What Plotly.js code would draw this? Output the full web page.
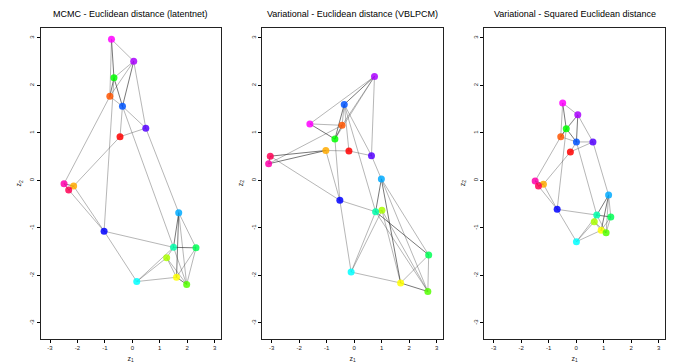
<!DOCTYPE html>
<html><head><meta charset="utf-8">
<script src="https://cdn.plot.ly/plotly-3.0.1.min.js"></script>
<style>body{margin:0;background:#fff}#chart{width:676px;height:363px}</style>
</head><body><div id="chart"></div>
<script>
// Node colours (rainbow(18)), node i = index i-1
const nodeColors = ['#FF0000','#FF5500','#FFAA00','#FFFF00','#AAFF00','#55FF00','#00FF00','#00FF55','#00FFAA',
                    '#00FFFF','#00AAFF','#0055FF','#0000FF','#5500FF','#AA00FF','#FF00FF','#FF00AA','#FF0055'];

const panelTitles = ['MCMC - Euclidean distance (latentnet)','Variational - Euclidean distance (VBLPCM)','Variational - Squared Euclidean distance'];

// latent positions per panel
const mcmcX = [-0.45,-0.82,-2.14,1.61,1.25,1.98,-0.67,2.32,1.50,0.16,1.69,-0.36,-1.03,0.49,0.05,-0.76,-2.49,-2.32];
const mcmcY = [0.92,1.77,-0.12,-2.04,-1.63,-2.19,2.16,-1.42,-1.41,-2.13,-0.68,1.56,-1.07,1.10,2.51,2.97,-0.07,-0.20];
const vbEucX = [-0.19,-0.44,-1.03,1.69,1.01,2.68,-0.70,2.71,0.78,-0.11,0.99,-0.36,-0.52,0.63,0.74,-1.61,-3.11,-3.05];
const vbEucY = [0.62,1.16,0.63,-2.16,-0.63,-2.34,0.87,-1.57,-0.66,-1.93,0.03,1.60,-0.42,0.52,2.19,1.19,0.35,0.51];
const vbSqX = [-0.21,-0.56,-1.19,0.91,0.66,1.09,-0.36,1.26,0.75,0.01,1.18,0.01,-0.69,0.61,0.06,-0.49,-1.49,-1.37];
const vbSqY = [0.60,0.92,-0.08,-1.05,-0.87,-1.10,1.09,-0.77,-0.73,-1.29,-0.31,0.81,-0.61,0.81,1.38,1.63,-0.01,-0.12];

// ties: from, to, number of directed ties (2 = reciprocal)
const edgeFrom = [16,16,16,15,15,15,15,7,7,2,12,12,1, 2,1,7,12,14, 17,18,17,3,18, 13,13,10,10,10, 11,11,11,11, 9,8,8,5,5,9,4,5];
const edgeTo   = [15,7,2,7,2,12,14,12,2,12,14,1,14, 17,3,13,9,11, 3,3,18,13,13, 9,10,5,9,4, 9,4,8,6, 8,4,6,4,6,6,6,9];
const edgeMult = [1,2,1,1,1,2,1,2,2,1,1,1,1, 1,1,1,1,1, 2,2,2,1,1, 1,1,1,1,1, 2,2,1,1, 2,1,1,1,1,1,2,1];

const axisTicks = [-3,-2,-1,0,1,2,3];
const axisRange = [-3.34,3.22];

const panels = [[mcmcX,mcmcY],[vbEucX,vbEucY],[vbSqX,vbSqY]];
const xDomPx = [[40.7,220.7],[262.3,442.7],[484.3,664.7]];
const W = 676, H = 363;
const yDom = [1-339/H, 1-27.5/H];

const traces = [];
const layout = {width:W,height:H,margin:{l:0,r:0,t:0,b:0},paper_bgcolor:'#fff',plot_bgcolor:'#fff',
  showlegend:false,font:{family:'Liberation Sans, Arial, sans-serif',color:'#000'},annotations:[]};

panels.forEach((p,k)=>{
  const [px,py] = p;
  const xa = k===0?'x':'x'+(k+1), ya = k===0?'y':'y'+(k+1);
  [1,2].forEach(m=>{
    const lx=[],ly=[];
    for(let e=0;e<edgeFrom.length;e++){
      if(edgeMult[e]!==m) continue;
      const a=edgeFrom[e]-1,b=edgeTo[e]-1;
      lx.push(px[a],px[b],null); ly.push(py[a],py[b],null);
    }
    traces.push({type:'scatter',mode:'lines',x:lx,y:ly,xaxis:xa,yaxis:ya,hoverinfo:'skip',
      line:{color:m===1?'rgba(60,60,60,0.42)':'rgba(40,40,40,0.7)',width:0.9}});
  });
  traces.push({type:'scatter',mode:'markers',x:px,y:py,xaxis:xa,yaxis:ya,
    marker:{size:7,color:nodeColors,opacity:0.85,line:{width:0}}});
  const common = {range:axisRange,tickvals:axisTicks,ticktext:axisTicks.map(String),ticks:'outside',ticklen:3,
    tickcolor:'#000',tickwidth:1,showline:true,mirror:true,linecolor:'#222',linewidth:1,showgrid:false,zeroline:false,
    tickfont:{size:6,color:'#222'}};
  layout[k===0?'xaxis':'xaxis'+(k+1)] = Object.assign({},common,{domain:[xDomPx[k][0]/W,xDomPx[k][1]/W],anchor:ya,
    title:{text:'z<sub>1</sub>',font:{size:7,color:'#222'},standoff:13}});
  layout[k===0?'yaxis':'yaxis'+(k+1)] = Object.assign({},common,{domain:yDom,anchor:xa,tickangle:-90,
    title:{text:'z<sub>2</sub>',font:{size:7,color:'#222'},standoff:6}});
  layout.annotations.push({text:panelTitles[k],xref:'paper',yref:'paper',x:(xDomPx[k][0]+xDomPx[k][1])/2/W,
    y:1-14/H,xanchor:'center',yanchor:'middle',showarrow:false,font:{size:9,color:'#000'}});
});

Plotly.newPlot('chart',traces,layout,{displayModeBar:false,staticPlot:true});
</script></body></html>
